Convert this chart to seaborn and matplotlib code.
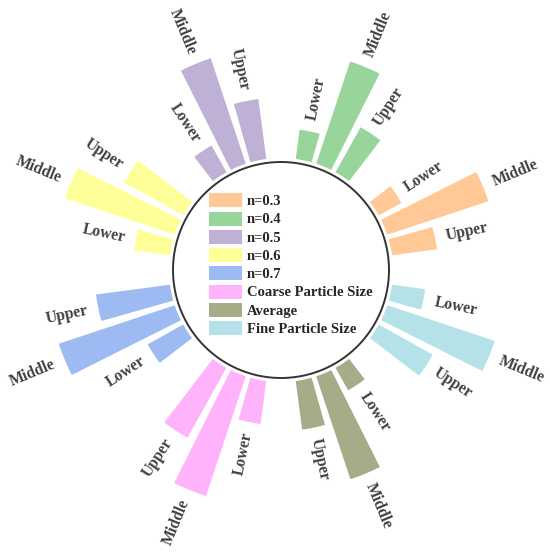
import numpy as np
import pandas as pd
import matplotlib
matplotlib.use("Agg")
import matplotlib.pyplot as plt
from matplotlib.patches import Patch
import seaborn as sns

# ---- data ----
groups = ["n=0.3", "n=0.4", "n=0.5", "n=0.6", "n=0.7",
          "Coarse Particle Size", "Average", "Fine Particle Size"]
positions = ["Lower", "Middle", "Upper"]
lower_vals = [25.8, 29.5, 30.5, 36.3, 40.7, 43.4, 25.7, 33.4]
middle_vals = [106.5, 107.7, 111.1, 115.5, 122.1, 126.2, 108.4, 113.2]
upper_vals = [45.3, 51.4, 60.5, 67.7, 74.6, 80.0, 49.0, 61.7]
colors = ["#FFC896", "#98D59A", "#BFB0D6", "#FFFF99",
          "#9DBAF2", "#FFB3FA", "#A8AB88", "#B5E2E8"]

group_center_deg = [22.5 + 45 * k for k in range(len(groups))]
bar_step_deg = 10.8
offsets = {"Lower": bar_step_deg, "Middle": 0.0, "Upper": -bar_step_deg}

rows = []
for g, c, lo, mi, up in zip(groups, group_center_deg, lower_vals, middle_vals, upper_vals):
    for p, v in zip(positions, [lo, mi, up]):
        rows.append({"group": g, "pos": p, "value": v,
                     "theta": np.deg2rad(c + offsets[p])})
df = pd.DataFrame(rows)

sns.set_theme(style="white")
plt.rcParams["font.family"] = ["Liberation Serif", "DejaVu Serif"]
plt.rcParams["font.weight"] = "bold"

W, H = 550, 558
fig = plt.figure(figsize=(W / 100, H / 100), dpi=100)
R = 250.0
cx, cy = 281.0, 270.0
ax = fig.add_axes([(cx - R) / W, (H - cy - R) / H, 2 * R / W, 2 * R / H],
                  projection="polar")

inner = 112.0
sns.barplot(data=df, x="theta", y="value", hue="group", hue_order=groups,
            palette=colors, saturation=1, native_scale=True, orient="x",
            dodge=False, width=8.3 / bar_step_deg, errorbar=None,
            legend=False, linewidth=0, ax=ax)
ax.set_ylim(-inner, R - inner)

# centre circle
tt = np.linspace(0, 2 * np.pi, 500)
ax.plot(tt, np.full_like(tt, 108.0 - inner), color="#333333", lw=1.4)

# bar labels
for _, r in df.iterrows():
    deg = np.rad2deg(r["theta"]) % 360
    rr = r["value"] + 11
    if deg < 90 or deg > 270:
        rot, ha = (deg if deg < 180 else deg - 360), "left"
    else:
        rot, ha = deg - 180, "right"
    ax.text(r["theta"], rr, r["pos"], rotation=rot, rotation_mode="anchor",
            ha=ha, va="center", fontsize=11.3, fontweight="bold",
            color="#404040")

ax.set_axis_off()

handles = [Patch(facecolor=c, edgecolor="none") for c in colors]
fs = 10.5
fpx = fs * 100 / 72
fig.legend(handles, groups, loc="upper left",
           bbox_to_anchor=(209 / W, 1 - 193.3 / H), frameon=False,
           borderpad=0, borderaxespad=0, handlelength=33 / fpx,
           handleheight=16 / fpx, labelspacing=3.3 / fpx,
           handletextpad=5 / fpx,
           prop={"family": "Liberation Serif", "weight": "bold", "size": fs})

fig.savefig("out.png", dpi=100)
